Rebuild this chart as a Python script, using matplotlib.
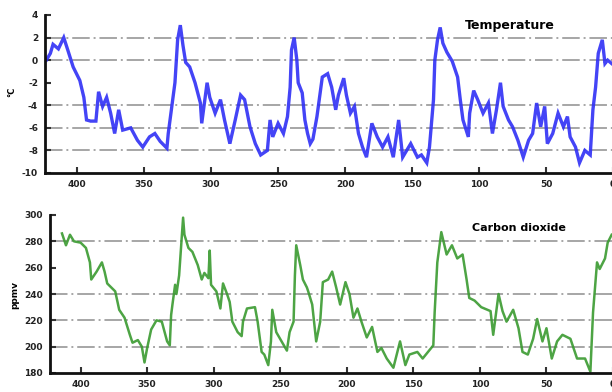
import matplotlib
matplotlib.use("Agg")
import matplotlib.pyplot as plt

# ---- data (thousand years before present) ----
temp_age = [423, 420, 418, 414, 410, 407, 403, 398, 395, 393, 390, 386, 384, 381, 378, 375, 372, 369, 366, 360,
            355, 351, 346, 342, 338, 333, 332, 329, 327, 325, 323, 321, 319, 316, 312, 308, 307, 303, 301, 297,
            293, 290, 286, 282, 278, 275, 271, 267, 263, 258, 256, 254, 250, 246, 243, 241, 240, 238, 236, 235,
            232, 230, 228, 226, 224, 221, 217, 213, 210, 207, 205, 201, 199, 196, 193, 190, 187, 184, 180, 176,
            172, 168, 164, 160, 157, 151, 146, 143, 139, 137, 134, 133, 131, 129, 127, 124, 120, 116, 114, 112,
            108, 107, 104, 101, 97, 93, 90, 87, 84, 82, 78, 75, 71, 67, 63, 60, 57, 54, 51, 49,
            45, 41, 37, 34, 32, 28, 25, 21, 17, 15, 13, 11, 8, 6, 4, 1]
temp_val = [0.0, 0.6, 1.4, 1.0, 2.0, 0.9, -0.6, -1.8, -3.3, -5.3, -5.4, -5.4, -2.8, -4.1, -3.3, -4.7, -6.5, -4.4, -6.2, -6.0,
            -7.1, -7.7, -6.8, -6.5, -7.2, -7.8, -6.5, -3.8, -2.0, 1.8, 3.1, 1.3, -0.2, -0.6, -2.0, -3.8, -5.6, -2.0, -3.3, -4.7,
            -3.5, -5.3, -7.4, -5.3, -3.1, -3.5, -5.9, -7.4, -8.4, -8.0, -5.3, -6.8, -5.6, -6.5, -5.0, -2.4, 0.9, 2.0, 0.0, -2.0,
            -2.9, -5.3, -6.5, -7.4, -7.0, -5.0, -1.5, -1.2, -2.4, -4.4, -3.1, -1.6, -3.1, -4.7, -4.1, -6.5, -7.7, -8.6, -5.6, -6.8,
            -7.7, -6.8, -8.6, -5.3, -8.6, -7.4, -8.6, -8.4, -9.1, -7.7, -3.5, 0.0, 1.8, 2.9, 1.5, 0.7, -0.1, -1.5, -3.5, -5.3,
            -6.8, -4.7, -2.7, -3.5, -4.7, -3.8, -6.5, -4.4, -2.0, -4.1, -5.3, -5.9, -7.1, -8.6, -7.1, -6.5, -3.8, -5.9, -4.1, -7.4,
            -6.5, -4.7, -5.9, -5.0, -6.8, -7.7, -9.1, -8.0, -8.4, -4.4, -2.4, 0.6, 1.8, -0.3, 0.0, -0.3]

co2_age = [414, 411, 408, 405, 400, 396, 393, 392, 388, 384, 382, 380, 374, 371, 367, 363, 361, 357, 354, 352,
           350, 347, 343, 339, 335, 333, 332, 331, 329, 328, 326, 324, 323, 322, 319, 316, 312, 309, 307, 304,
           303, 302, 298, 295, 293, 290, 288, 286, 282, 279, 278, 275, 269, 267, 264, 262, 259, 257, 256, 253,
           249, 245, 243, 240, 239, 238, 235, 233, 230, 229, 226, 223, 220, 218, 214, 211, 208, 205, 201, 198,
           195, 192, 189, 185, 181, 177, 174, 170, 165, 160, 156, 153, 147, 143, 139, 135, 134, 132, 129, 125,
           121, 117, 113, 110, 108, 104, 99, 92, 90, 86, 83, 80, 75, 71, 68, 64, 60, 57, 53, 50,
           46, 42, 38, 32, 27, 21, 17, 15, 12, 10, 6, 4, 1]
co2_val = [286, 277, 285, 280, 279, 275, 264, 251, 257, 264, 257, 248, 242, 228, 222, 209, 203, 205, 200, 188,
           199, 213, 220, 219, 204, 201, 224, 232, 247, 240, 254, 283, 298, 285, 275, 272, 262, 251, 256, 252,
           273, 247, 242, 229, 248, 240, 234, 219, 211, 208, 219, 229, 230, 219, 196, 194, 186, 204, 228, 211,
           204, 197, 211, 219, 254, 277, 262, 251, 245, 242, 232, 204, 219, 249, 251, 257, 245, 232, 249, 240,
           222, 229, 219, 207, 215, 196, 199, 191, 184, 204, 186, 194, 196, 191, 196, 201, 226, 264, 287, 270,
           277, 267, 270, 251, 237, 235, 230, 227, 209, 240, 227, 219, 228, 214, 196, 194, 206, 221, 204, 214,
           191, 204, 209, 206, 191, 191, 181, 226, 264, 259, 267, 279, 285]

x_ticks = [400, 350, 300, 250, 200, 150, 100, 50, 0]
temp_ticks = [4, 2, 0, -2, -4, -6, -8, -10]
temp_grid = [2, 0, -4, -6, -8]
co2_ticks = [300, 280, 260, 240, 220, 200, 180]
co2_grid = [280, 240, 220, 200]

W, H = 612, 392
fig = plt.figure(figsize=(W / 100, H / 100), dpi=100)

tick_font = dict(fontsize=6.5, fontweight="bold", color="#222222")


def style(ax, ticks, grid, xl, yl):
    ax.set_xlim(*xl)
    ax.set_ylim(*yl)
    for s in ("top", "right"):
        ax.spines[s].set_visible(False)
    for s in ("left", "bottom"):
        ax.spines[s].set_linewidth(2.0)
        ax.spines[s].set_color("#111111")
    ax.set_xticks(x_ticks)
    ax.set_xticklabels([str(t) for t in x_ticks], **tick_font)
    ax.set_yticks(ticks)
    ax.set_yticklabels([str(t) for t in ticks], **tick_font)
    ax.tick_params(direction="in", length=4, width=1.5, color="#333333", pad=5)
    for g in grid:
        ax.axhline(g, color="#a6a6a6", lw=1.4, ls=(0, (9, 2, 1, 2)), zorder=0)


ax1 = fig.add_axes([45 / W, 1 - 173 / H, (613 - 45) / W, 158 / H])
ax1.plot(temp_age, temp_val, color="#2f2ff5", lw=2.4, alpha=0.9, solid_joinstyle="miter")
style(ax1, temp_ticks, temp_grid, (424, 0), (-10, 4))

ax2 = fig.add_axes([50 / W, 1 - 373 / H, (613 - 50) / W, 158 / H])
ax2.plot(co2_age, co2_val, color="#3a9a30", lw=1.8, alpha=0.9)
style(ax2, co2_ticks, co2_grid, (423, 0), (180, 300))

fig.text(465 / W, 1 - 25 / H, "Temperature", fontsize=9, fontweight="bold", va="center", ha="left")
fig.text(472 / W, 1 - 228 / H, "Carbon dioxide", fontsize=8, fontweight="bold", va="center", ha="left")
fig.text(12 / W, 1 - 92 / H, "°C", fontsize=6, fontweight="bold", rotation=90, va="center", ha="center")
fig.text(15 / W, 1 - 295 / H, "ppmv", fontsize=6.5, fontweight="bold", rotation=90, va="center", ha="center")

fig.savefig("out.png", dpi=100)
